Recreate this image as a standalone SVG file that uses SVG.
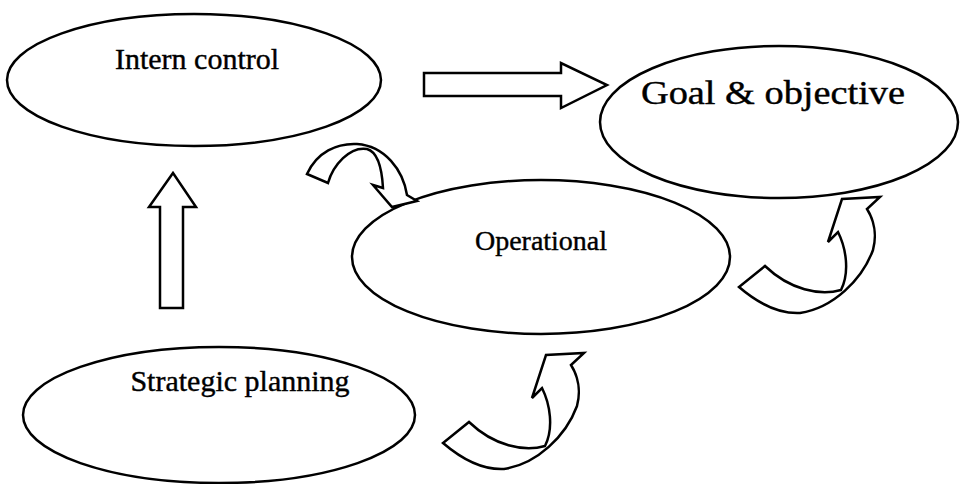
<svg xmlns="http://www.w3.org/2000/svg" width="962" height="484" viewBox="0 0 962 484">
<style>
.n{fill:none;stroke:#000;stroke-width:2.5}
.a{fill:#fff;stroke:#000;stroke-width:2.5;stroke-linejoin:miter}
.t{font-family:"Liberation Serif","Times New Roman",serif;fill:#000;stroke:#000;stroke-width:0.4;text-anchor:middle}
</style>
<defs>
<path id="curl" d="M739,287 C760,305 780,314 800,313 C833,308 862,280 873,250 C877,235 874,220 867,209 L880,197 L842,199 L828,242 L838,232 C846,248 850,272 841,290 C820,296 790,290 765,266 Z"/>
</defs>
<rect width="962" height="484" fill="#fff"/>
<g id="intern-control">
<ellipse class="n" cx="194" cy="80" rx="187" ry="66"/>
<text class="t" x="197" y="69" font-size="30">Intern control</text>
</g>
<g id="goal-objective">
<ellipse class="n" cx="779" cy="122" rx="179" ry="76"/>
<text class="t" x="773" y="104" font-size="33" textLength="264" lengthAdjust="spacingAndGlyphs">Goal &amp; objective</text>
</g>
<g id="operational">
<ellipse class="n" cx="541" cy="257" rx="189" ry="77"/>
<text class="t" x="541" y="250" font-size="28">Operational</text>
</g>
<g id="strategic-planning">
<ellipse class="n" cx="219" cy="415" rx="196" ry="68"/>
<text class="t" x="240" y="391" font-size="30">Strategic planning</text>
</g>
<g id="connectors">
<path class="a" d="M424,73 L561,73 L561,63 L607,85 L561,108 L561,96 L424,96 Z"/>
<path class="a" d="M160,308 L160,207 L149,207 L173,173 L196,207 L183,207 L183,308 Z"/>
<path class="a" d="M307,174 C317,152 337,143 357,144 C385,146 403,170 407,195 L417,201 L392,207 L373,185 L383,188 C382,170 378,152 367,149 C350,146 333,165 328,183 Z"/>
<use href="#curl" class="a"/>
<use href="#curl" class="a" transform="translate(-296,156)"/>
</g>
</svg>
